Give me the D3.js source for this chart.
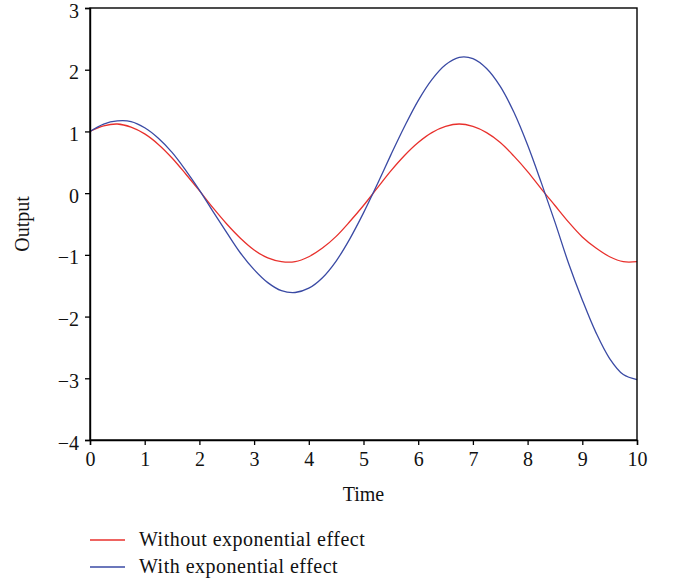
<!DOCTYPE html>
<html>
<head>
<meta charset="utf-8">
<script src="https://cdn.jsdelivr.net/npm/d3@7"></script>
<style>
  body { margin: 0; background: #fff; }
  svg text { font-family: "Liberation Serif", "DejaVu Serif", serif; fill: #111; }
</style>
</head>
<body>
<script>
// values, every 0.25 in time
var time = [0,0.25,0.5,0.75,1,1.25,1.5,1.75,2,2.25,2.5,2.75,3,3.25,3.5,3.75,4,4.25,4.5,4.75,5,
            5.25,5.5,5.75,6,6.25,6.5,6.75,7,7.25,7.5,7.75,8,8.25,8.5,8.75,9,9.25,9.5,9.75,10];
var withoutExp = [1.00,1.09,1.12,1.07,0.96,0.79,0.57,0.31,0.04,-0.24,-0.50,-0.73,-0.92,-1.05,-1.11,-1.11,-1.03,
                  -0.89,-0.70,-0.46,-0.20,0.08,0.36,0.61,0.82,0.98,1.08,1.12,1.08,0.98,0.82,0.60,0.35,
                  0.07,-0.20,-0.47,-0.71,-0.89,-1.03,-1.11,-1.11];
var withExp = [1.00,1.12,1.17,1.16,1.06,0.89,0.66,0.37,0.05,-0.30,-0.64,-0.97,-1.24,-1.45,-1.58,-1.61,-1.54,
               -1.37,-1.10,-0.74,-0.32,0.14,0.62,1.08,1.50,1.84,2.08,2.20,2.18,2.02,1.73,1.31,0.78,
               0.17,-0.47,-1.14,-1.73,-2.26,-2.68,-2.94,-3.02];
var xTicks = [0,1,2,3,4,5,6,7,8,9,10];
var yTicks = [-4,-3,-2,-1,0,1,2,3];
var seriesNames = ["Without exponential effect", "With exponential effect"];
var seriesColors = ["#e8302c", "#3a4aa4"];

var W = 676, H = 583;
var margin = {left: 90, top: 8, right: 39, bottom: 143};
var width = W - margin.left - margin.right;
var height = H - margin.top - margin.bottom;
var fs = 20;

var svg = d3.select("body").append("svg")
  .attr("width", W).attr("height", H);
var g = svg.append("g")
  .attr("transform", "translate(" + margin.left + "," + margin.top + ")");

var x = d3.scaleLinear().domain([0, 10]).range([0, width]);
var y = d3.scaleLinear().domain([-4, 3]).range([height, 0]);

// lines
var series = [withoutExp, withExp];
series.forEach(function(vals, k) {
  var line = d3.line()
    .x(function(d, i) { return x(time[i]); })
    .y(function(d) { return y(d); })
    .curve(d3.curveCatmullRom);
  g.append("path")
    .datum(vals)
    .attr("d", line)
    .attr("fill", "none")
    .attr("stroke", seriesColors[k])
    .attr("stroke-width", 1.3);
});

// frame
g.append("rect")
  .attr("width", width).attr("height", height)
  .attr("fill", "none").attr("stroke", "#000").attr("stroke-width", 1.4);

var xAxis = g.append("g")
  .attr("transform", "translate(0," + height + ")")
  .call(d3.axisBottom(x).tickValues(xTicks).tickSize(5).tickPadding(7).tickFormat(d3.format("d")));
var yAxis = g.append("g")
  .call(d3.axisLeft(y).tickValues(yTicks).tickSize(5).tickPadding(6).tickFormat(d3.format("d")));
[xAxis, yAxis].forEach(function(a) {
  a.select(".domain").attr("stroke-width", 1.4);
  a.selectAll(".tick line").attr("stroke-width", 1.3);
  a.selectAll("text").attr("font-size", fs).attr("font-family", null).attr("fill", "#111");
});
yAxis.selectAll("text").attr("dy", "0.45em");

// axis titles
svg.append("text")
  .attr("x", margin.left + width / 2).attr("y", 501)
  .attr("text-anchor", "middle").attr("font-size", fs)
  .text("Time");
svg.append("text")
  .attr("transform", "translate(29," + (margin.top + height / 2) + ") rotate(-90)")
  .attr("text-anchor", "middle").attr("font-size", fs)
  .text("Output");

// legend
seriesNames.forEach(function(name, k) {
  var ly = 540 + k * 27;
  svg.append("line")
    .attr("x1", 90).attr("x2", 125).attr("y1", ly).attr("y2", ly)
    .attr("stroke", seriesColors[k]).attr("stroke-width", 1.3);
  svg.append("text")
    .attr("x", 139).attr("y", ly + 6)
    .attr("font-size", fs)
    .attr("letter-spacing", 0.5)
    .text(name);
});
</script>
</body>
</html>
